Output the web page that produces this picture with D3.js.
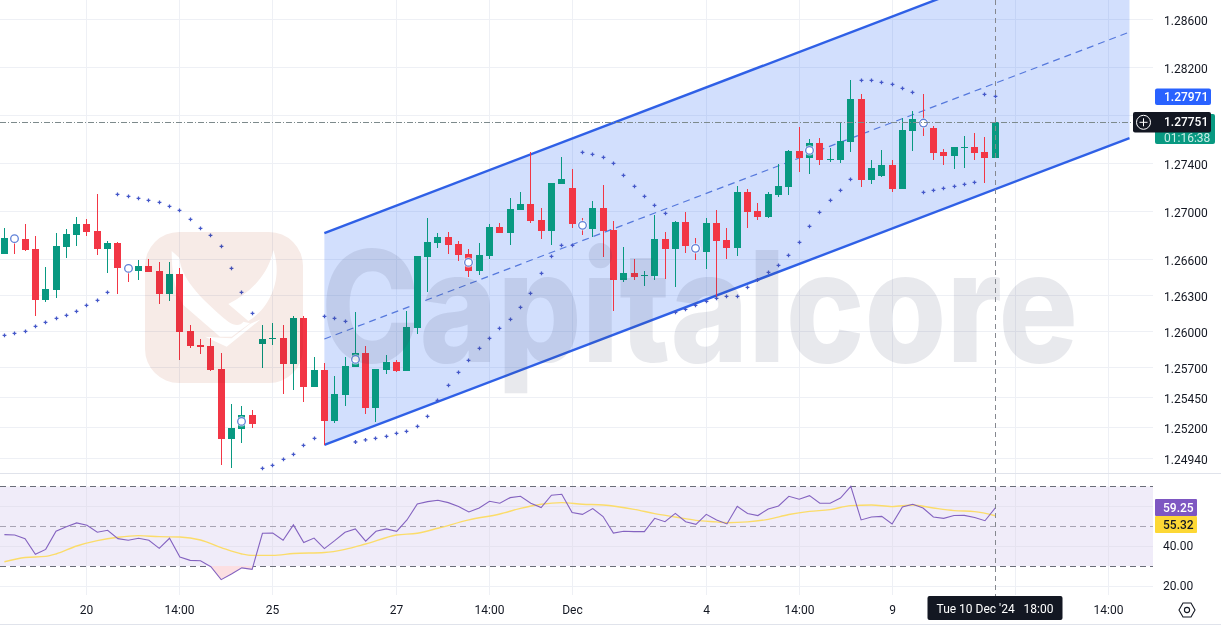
<!DOCTYPE html>
<html><head><meta charset="utf-8">
<script src="https://d3js.org/d3.v7.min.js"></script>
<style>html,body{margin:0;padding:0;background:#fff;overflow:hidden}svg{display:block}text{font-family:Roboto,"Liberation Sans",sans-serif}</style>
</head><body><div id="c"></div>
<script>
const open=[1.26647,1.26791,1.26772,1.26689,1.26263,1.26347,1.26705,1.26805,1.26897,1.26839,1.26689,1.26739,1.26547,1.26505,1.26544,1.26505,1.26313,1.26480,1.26005,1.25888,1.25880,1.25688,1.25104,1.25187,1.25304,1.25896,1.25938,1.25946,1.25729,1.26113,1.25538,1.25679,1.25254,1.25471,1.25707,1.25821,1.25362,1.25679,1.25746,1.25671,1.26030,1.26622,1.26739,1.26789,1.26730,1.26647,1.26505,1.26630,1.26872,1.26822,1.27014,1.27064,1.26930,1.26839,1.27231,1.27197,1.26908,1.26855,1.27030,1.26847,1.26430,1.26488,1.26463,1.26463,1.26772,1.26689,1.26914,1.26722,1.26664,1.26905,1.26764,1.26697,1.27164,1.27005,1.26955,1.27139,1.27206,1.27506,1.27447,1.27573,1.27431,1.27431,1.27581,1.27940,1.27264,1.27297,1.27389,1.27189,1.27673,1.27764,1.27698,1.27498,1.27464,1.27531,1.27539,1.27498,1.27447];
const high=[1.26864,1.26805,1.26897,1.26797,1.26536,1.26819,1.26853,1.26953,1.26939,1.27147,1.26752,1.26750,1.26555,1.26597,1.26605,1.26580,1.26580,1.26530,1.26055,1.25938,1.25946,1.25821,1.25396,1.25379,1.25346,1.26055,1.26071,1.26055,1.26130,1.26130,1.25788,1.25738,1.25629,1.25788,1.26163,1.25880,1.25688,1.25804,1.25763,1.26171,1.26630,1.26947,1.26822,1.26830,1.26755,1.26689,1.26739,1.26897,1.26905,1.27114,1.27164,1.27498,1.27030,1.27239,1.27456,1.27356,1.26947,1.27089,1.27222,1.26922,1.26705,1.26605,1.26505,1.26972,1.26830,1.26922,1.26997,1.26780,1.26947,1.27014,1.26864,1.27214,1.27189,1.27072,1.27164,1.27397,1.27514,1.27706,1.27606,1.27614,1.27531,1.27748,1.28098,1.27981,1.27431,1.27514,1.27431,1.27781,1.27839,1.27981,1.27714,1.27523,1.27539,1.27631,1.27656,1.27623,1.27770];
const low=[1.26647,1.26647,1.26675,1.26133,1.26249,1.26283,1.26616,1.26716,1.26800,1.26639,1.26491,1.26313,1.26413,1.26430,1.26497,1.26230,1.26255,1.25763,1.25866,1.25813,1.25668,1.24887,1.24862,1.25071,1.25196,1.25696,1.25888,1.25479,1.25513,1.25413,1.25538,1.25054,1.25237,1.25379,1.25707,1.25312,1.25246,1.25646,1.25663,1.25671,1.25980,1.26330,1.26697,1.26647,1.26589,1.26455,1.26472,1.26605,1.26822,1.26722,1.27014,1.26905,1.26772,1.26722,1.27231,1.26864,1.26805,1.26789,1.26622,1.26171,1.26413,1.26430,1.26380,1.26430,1.26438,1.26372,1.26655,1.26597,1.26522,1.26263,1.26605,1.26630,1.26864,1.26930,1.26947,1.27122,1.27139,1.27331,1.27314,1.27389,1.27414,1.27406,1.27498,1.27206,1.27231,1.27289,1.27164,1.27189,1.27506,1.27631,1.27431,1.27389,1.27356,1.27364,1.27431,1.27239,1.27447];
const close=[1.26780,1.26758,1.26680,1.26263,1.26355,1.26714,1.26814,1.26897,1.26830,1.26689,1.26739,1.26530,1.26508,1.26544,1.26497,1.26313,1.26480,1.25996,1.25880,1.25871,1.25679,1.25104,1.25196,1.25304,1.25229,1.25938,1.25946,1.25729,1.26113,1.25538,1.25679,1.25254,1.25479,1.25713,1.25818,1.25362,1.25688,1.25746,1.25671,1.26038,1.26630,1.26747,1.26789,1.26722,1.26639,1.26505,1.26639,1.26872,1.26822,1.27022,1.27064,1.26922,1.26839,1.27239,1.27272,1.26897,1.26861,1.27030,1.26839,1.26430,1.26488,1.26455,1.26472,1.26772,1.26689,1.26914,1.26714,1.26666,1.26905,1.26755,1.26697,1.27164,1.26997,1.26955,1.27147,1.27214,1.27506,1.27447,1.27573,1.27431,1.27439,1.27589,1.27940,1.27264,1.27364,1.27389,1.27189,1.27681,1.27773,1.27709,1.27489,1.27464,1.27539,1.27539,1.27489,1.27447,1.27751];
const sar=[1.25969,1.25985,1.26002,1.26044,1.26077,1.26110,1.26135,1.26169,1.26219,1.26260,1.26327,1.27144,1.27128,1.27111,1.27094,1.27078,1.27044,1.27011,1.26936,1.26861,1.26803,1.26711,1.26527,1.26327,1.26152,1.24859,1.24884,1.24934,1.24976,1.25051,1.25109,1.26127,1.26110,1.26085,1.25079,1.25096,1.25109,1.25126,1.25151,1.25168,1.25210,1.25293,1.25426,1.25552,1.25660,1.25760,1.25860,1.25943,1.26027,1.26102,1.26202,1.26319,1.26486,1.26627,1.26719,1.26719,1.27495,1.27478,1.27453,1.27403,1.27303,1.27211,1.27128,1.27053,1.26986,1.26160,1.26185,1.26219,1.26252,1.26277,1.26294,1.26294,1.26369,1.26430,1.26494,1.26552,1.26636,1.26744,1.26878,1.26994,1.27094,1.27178,1.27270,1.28095,1.28095,1.28079,1.28062,1.28029,1.27995,1.27161,1.27178,1.27194,1.27211,1.27228,1.27245,1.27978,1.27962];
const rsi=[45.8,45.6,43.8,35.9,38.4,47.5,49.8,51.7,50.5,47.0,48.0,43.8,43.0,44.0,43.0,38.9,44.0,34.6,32.9,32.7,29.7,23.2,26.0,29.1,28.4,46.5,46.6,43.0,50.7,41.8,44.1,38.8,42.8,47.0,48.7,42.5,47.5,48.7,47.5,53.2,61.2,62.4,63.1,61.9,59.9,57.2,59.2,62.6,61.6,64.4,65.1,61.6,59.4,65.6,66.1,56.9,56.0,58.9,54.9,46.6,47.5,47.3,47.3,54.0,52.3,56.5,52.3,51.0,56.0,53.2,51.2,60.0,56.4,55.4,58.7,60.2,65.1,63.6,65.4,61.6,61.6,64.2,70.1,53.2,54.7,55.0,51.2,59.7,61.1,59.2,54.7,54.0,55.4,55.5,54.4,52.8,59.25];
const rsiMaIndex=[0,2,4,5,7,9,11,13,15,17,19,21,23,24,26,28,31,33,35,38,40,42,45,48,50,52,54,56,58,61,63,65,67,69,70,72,74,76,78,80,82,84,86,88,90,92,94,96];
const rsiMa=[32.2,34.3,34.9,36.1,40.1,42.8,44.5,45.3,44.8,44.6,43.1,39.3,36.1,35.4,35.4,36.3,36.8,38.4,41.1,45.6,46.5,49.0,53.2,56.2,59.0,61.1,61.9,61.1,60.7,58.5,56.4,54.7,53.0,52.2,51.8,52.2,53.5,55.9,57.5,58.4,60.4,60.7,59.9,60.7,59.2,57.9,57.4,55.32];
const eventIndex=[1,12,23,34,45,56,67,78,89];
const eventPrice=[1.26775,1.26527,1.25251,1.25768,1.26577,1.26886,1.26694,1.27511,1.27739];
const channelIndex=[31,109];
const channelLower=[1.25054,1.27614];
const channelMiddle=[1.25938,1.28498];
const channelUpper=[1.26822,1.29382];
const priceTicks=[1.28600,1.28200,1.27400,1.27000,1.26600,1.26300,1.26000,1.25700,1.25450,1.25200,1.24940];
const priceGrid=[1.28600,1.28200,1.27800,1.27400,1.27000,1.26600,1.26300,1.26000,1.25700,1.25450,1.25200,1.24940];
const timeTickIndex=[8,17,26,38,47,55,68,77,86,98,107];
const timeTickLabels=["20","14:00","25","27","14:00","Dec","4","14:00","9","","14:00"];
const rsiLevels=[70,50,30];
const rsiGrid=[60,40,20];
const rsiTicks=[40,20];
const lastIndex=96, lastPrice=1.27751, channelPrice=1.27971, lastRsi=59.25, lastRsiMa=55.32;

const W=1221,H=625,paneR=1153;
const svg=d3.select("#c").append("svg").attr("width",W).attr("height",H).attr("viewBox",`0 0 ${W} ${H}`);
const x=d3.scaleLinear().domain([0,96]).range([4.4,995.3]);
const y=d3.scaleLinear().domain([1.27,1.25]).range([211.67,451.47]);
const yR=d3.scaleLinear().domain([50,30]).range([526.3,566.1]);
const idx=d3.range(open.length);
const px=i=>Math.floor(x(i))+.5;

const defs=svg.append("defs");
defs.append("clipPath").attr("id","main").append("rect").attr("x",0).attr("y",0).attr("width",paneR).attr("height",473);
defs.append("clipPath").attr("id","below30").append("rect").attr("x",0).attr("y",yR(30)).attr("width",paneR).attr("height",60);

// grid
const grid=svg.append("g").attr("stroke","#eef0f5").attr("stroke-width",1).attr("shape-rendering","crispEdges");
grid.selectAll(".p").data(priceGrid).join("line").attr("x1",0).attr("x2",paneR).attr("y1",d=>y(d)).attr("y2",d=>y(d));
grid.selectAll(".t").data(timeTickIndex).join("line").attr("x1",d=>px(d)).attr("x2",d=>px(d)).attr("y1",0).attr("y2",595);
grid.selectAll(".r").data(rsiGrid).join("line").attr("x1",0).attr("x2",paneR).attr("y1",d=>yR(d)).attr("y2",d=>yR(d));

// channel
const main=svg.append("g").attr("clip-path","url(#main)");
const toPts=a=>channelIndex.map((c,i)=>[x(c),y(a[i])]);
const lineG=d3.line();
main.append("path").attr("d",lineG([...toPts(channelUpper),...toPts(channelLower).reverse()])+"Z").attr("fill","rgba(30,95,245,0.2)");
main.append("path").attr("d",lineG(toPts(channelMiddle))).attr("fill","none").attr("stroke","#5578dc").attr("stroke-width",1.2).attr("stroke-dasharray","7 5");
main.append("path").attr("d",lineG(toPts(channelUpper))).attr("fill","none").attr("stroke","#2f60e6").attr("stroke-width",2.4);
main.append("path").attr("d",lineG(toPts(channelLower))).attr("fill","none").attr("stroke","#2f60e6").attr("stroke-width",2.4);

// candles
const col=i=>close[i]>=open[i]?"#089981":"#f23645";
const cg=main.append("g").attr("shape-rendering","crispEdges");
cg.selectAll(".w").data(idx).join("line").attr("x1",px).attr("x2",px).attr("y1",i=>y(high[i])).attr("y2",i=>y(low[i])).attr("stroke",col).attr("stroke-width",1);
cg.selectAll(".b").data(idx).join("rect").attr("x",i=>px(i)-3.5).attr("width",7)
  .attr("y",i=>y(Math.max(open[i],close[i]))).attr("height",i=>Math.max(1,Math.abs(y(open[i])-y(close[i])))).attr("fill",col);

// SAR
main.append("g").selectAll("path").data(idx).join("path")
  .attr("d",d3.symbol(d3.symbolCross).size(8)).attr("transform",i=>`translate(${px(i)},${y(sar[i])})`).attr("fill","#4558c9");

// event markers
main.append("g").selectAll("circle").data(eventIndex).join("circle")
  .attr("cx",d=>px(d)).attr("cy",(d,i)=>y(eventPrice[i])).attr("r",5.2).attr("fill","#fff").attr("fill-opacity",.7);
main.append("g").selectAll("circle").data(eventIndex).join("circle")
  .attr("cx",d=>px(d)).attr("cy",(d,i)=>y(eventPrice[i])).attr("r",3.8).attr("fill","#fff").attr("stroke","#5f80d8").attr("stroke-width",1.3);

// watermark
const wm=svg.append("g").style("mix-blend-mode","multiply");
wm.append("rect").attr("x",145).attr("y",232).attr("width",158).attr("height",151).attr("rx",34).attr("fill","#f7ebe7");
wm.append("path").attr("fill","#fff").attr("d","M273.3,250 C268.3,275 250,293.3 228.3,304 L248.3,321 C270,308.3 283.3,278.3 273.3,250 Z");
wm.append("path").attr("fill","#fff").attr("d","M171.7,251 L179.3,257.7 C181.7,278.3 198.3,296.7 228.3,321.7 C235,326 240,326 243.3,321.7 L250,323.3 L231.7,336.7 L220,336.7 L183.3,305 C173.3,288.3 171.7,268.3 171.7,251 Z");
wm.append("path").attr("fill","#fff").attr("d","M205,336.7 L226.7,346.7 L260.7,319.3 L250,324 L231.7,338.3 L220,337.7 Z");
const mark=svg.append("text").attr("font-size",154).attr("font-weight",800)
  .style("font-family","Inter,Roboto,sans-serif").attr("fill","rgba(55,65,100,0.115)").text("Capitalcore");
const natural=mark.node().getComputedTextLength();
mark.attr("transform",`translate(321,362) scale(${757/natural},1)`);

// RSI pane
const rp=svg.append("g");
rp.append("rect").attr("x",0).attr("width",paneR).attr("y",yR(70)).attr("height",yR(30)-yR(70)).attr("fill","#f0ecf9");
rp.selectAll(".gr").data(rsiGrid.filter(d=>d>30)).join("line").attr("x1",0).attr("x2",paneR).attr("y1",d=>yR(d)).attr("y2",d=>yR(d)).attr("stroke","#e6e3f0").attr("shape-rendering","crispEdges");
rp.selectAll(".gt").data(timeTickIndex).join("line").attr("x1",d=>px(d)).attr("x2",d=>px(d)).attr("y1",yR(70)).attr("y2",yR(30)).attr("stroke","#e6e3f0").attr("shape-rendering","crispEdges");
rp.selectAll(".lv").data(rsiLevels).join("line").attr("x1",0).attr("x2",paneR).attr("y1",d=>yR(d)).attr("y2",d=>yR(d))
  .attr("stroke",d=>d===50?"#a8a4b4":"#6a6d78").attr("stroke-width",1).attr("stroke-dasharray","6 4").attr("shape-rendering","crispEdges");
rp.append("path").attr("clip-path","url(#below30)")
  .attr("d",d3.area().x(i=>x(i)).y0(yR(30)).y1(i=>yR(rsi[i]))(idx)).attr("fill","#fcdfe2");
rp.append("path").attr("d",d3.line().x((d)=>x(d)).y((d,i)=>yR(rsiMa[i])).curve(d3.curveMonotoneX)(rsiMaIndex)).attr("fill","none").attr("stroke","#fbdc6a").attr("stroke-width",1.4);
rp.append("path").attr("d",d3.line().x(i=>x(i)).y(i=>yR(rsi[i]))(idx)).attr("fill","none").attr("stroke","#8463c0").attr("stroke-width",1.1);

// separators
svg.append("line").attr("x1",0).attr("x2",W).attr("y1",473.5).attr("y2",473.5).attr("stroke","#e0e3eb");
svg.append("line").attr("x1",0).attr("x2",W).attr("y1",624.5).attr("y2",624.5).attr("stroke","#e0e3eb");

// crosshair
const chY=Math.round(y(lastPrice))+.5, chX=px(lastIndex);
svg.append("line").attr("x1",0).attr("x2",1133).attr("y1",chY).attr("y2",chY).attr("stroke","#7d8a8c").attr("stroke-dasharray","6 2 1 2").attr("shape-rendering","crispEdges");
svg.append("line").attr("x1",chX).attr("x2",chX).attr("y1",0).attr("y2",596).attr("stroke","#85888f").attr("stroke-dasharray","5 4").attr("shape-rendering","crispEdges");

// price axis
const ax=svg.append("g").attr("font-size",12).attr("fill","#131722");
ax.selectAll(".pt").data(priceTicks).join("text").attr("x",1164).attr("y",d=>y(d)+1).attr("dy","0.35em").text(d=>d.toFixed(5));
ax.selectAll(".rt").data(rsiTicks).join("text").attr("x",1163).attr("y",d=>yR(d)).attr("dy","0.35em").text(d=>d.toFixed(2));

// price labels
function tag(xp,yp,w,h,fill,txt,tc,tx,weight,rx){
  svg.append("rect").attr("x",xp).attr("y",yp).attr("width",w).attr("height",h).attr("rx",rx==null?2:rx).attr("fill",fill);
  if(txt) svg.append("text").attr("x",tx).attr("y",yp+h/2).attr("dy","0.35em").attr("font-size",12).attr("font-weight",weight||400).attr("fill",tc).text(txt);
}
const cp=y(channelPrice)+1.3;
tag(1155,cp-8,56,16.5,"#2962ff",channelPrice.toFixed(5),"#fff",1164,500);
tag(1155,114,60,30,"#089981","","#fff",1164);
svg.append("text").attr("x",1164).attr("y",137.5).attr("dy","0.35em").attr("font-size",12).attr("fill","#c9ece6").text("01:16:38");
tag(1133,112,78,20.5,"#131722",lastPrice.toFixed(5),"#fff",1164,500);
svg.append("circle").attr("cx",1143.5).attr("cy",122.3).attr("r",7).attr("fill","none").attr("stroke","#fff").attr("stroke-width",1);
svg.append("path").attr("d","M1139.5,122.3H1147.5M1143.5,118.3V126.3").attr("stroke","#fff").attr("stroke-width",1);

tag(1155,499,42,17,"#7e57c2",lastRsi.toFixed(2),"#fff",1163,500,1);
tag(1155,516,42,17,"#fdd835",lastRsiMa.toFixed(2),"#131722",1163,500,1);

// time axis
svg.append("g").attr("font-size",12).attr("fill","#131722").attr("text-anchor","middle")
 .selectAll("text").data(timeTickIndex).join("text").attr("x",d=>px(d)).attr("y",610).attr("dy","0.35em").text((d,i)=>timeTickLabels[i]);
svg.append("rect").attr("x",927.5).attr("y",596).attr("width",135).attr("height",24).attr("rx",2).attr("fill","#131722");
svg.append("text").attr("x",995).attr("y",608.5).attr("dy","0.35em").attr("text-anchor","middle").attr("font-size",12).attr("fill","#fff").attr("xml:space","preserve").style("white-space","pre").text("Tue 10 Dec '24   18:00");

// settings icon
const hex=d3.range(6).map(k=>[1187+8*Math.cos(k*Math.PI/3),610+8*Math.sin(k*Math.PI/3)]);
svg.append("path").attr("d",d3.line()(hex)+"Z").attr("fill","none").attr("stroke","#131722").attr("stroke-width",1.1);
svg.append("circle").attr("cx",1187).attr("cy",610).attr("r",2.6).attr("fill","none").attr("stroke","#131722").attr("stroke-width",1.1);
</script></body></html>
